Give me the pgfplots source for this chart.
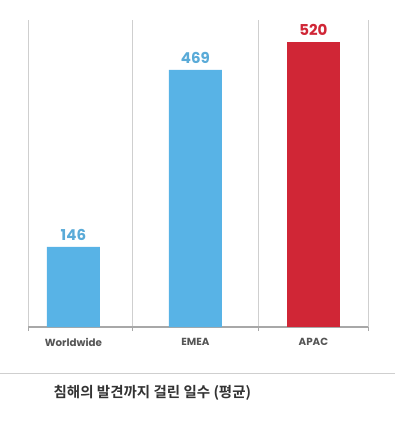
\documentclass[border=0pt]{standalone}
\usepackage{fontspec}
\usepackage{pgfplots}
\pgfplotsset{compat=1.18}
\setmainfont{Poppins}
\newfontfamily\kr{Noto Sans CJK KR}[BoldFont={Noto Sans CJK KR Bold}]
\definecolor{barblue}{HTML}{58B3E6}
\definecolor{barred}{HTML}{D02636}
\definecolor{lblblue}{HTML}{5AABD8}
\definecolor{gridgray}{HTML}{CFCFCF}
\definecolor{axgray}{HTML}{A8A8A8}
\definecolor{txtgray}{HTML}{555555}
\begin{document}
\begin{tikzpicture}[x=1pt,y=1pt]
\path (0,0) rectangle (400,-423);
\begin{axis}[
  at={(28pt,-327pt)}, anchor=south west,
  scale only axis, width=340pt, height=307pt,
  xmin=28, xmax=368, ymin=0, ymax=560,
  axis x line*=bottom, axis y line=none,
  x axis line style={axgray, line width=1.2pt},
  xtick={28,132,258,368}, xticklabels={},
  xmajorgrids, grid style={gridgray, line width=0.8pt},
  tick align=outside, major tick length=4pt,
  tick style={axgray, line width=1.2pt},
  ytick=\empty,
  ybar, bar width=53pt, bar shift=0pt,
  /pgf/number format/assume math mode=true,
  nodes near coords,
  nodes near coords style={font=\fontsize{15}{15}\selectfont\bfseries, anchor=south, yshift=3pt},
  clip=false,
]
\addplot[fill=barblue, draw=none, nodes near coords style={text=lblblue}] coordinates {(73,146) (195,469)};
\addplot[fill=barred, draw=none, nodes near coords style={text=barred}] coordinates {(313,520)};
\end{axis}
\node[font=\fontsize{10.3}{11}\selectfont\bfseries, text=txtgray] at (73,-342) {Worldwide};
\node[font=\fontsize{10.3}{11}\selectfont\bfseries, text=txtgray] at (195,-342) {EMEA};
\node[font=\fontsize{10.3}{11}\selectfont\bfseries, text=txtgray] at (313,-342) {APAC};
\draw[gridgray, line width=0.8pt] (0,-373) -- (395,-373);
\node[anchor=west, inner sep=0pt, font=\kr\fontsize{14.5}{15}\selectfont\bfseries, text=black!80] at (53,-393) {침해의 발견까지 걸린 일수 (평균)};
\end{tikzpicture}
\end{document}
